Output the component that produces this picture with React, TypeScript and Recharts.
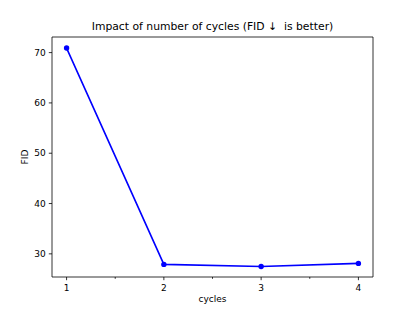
import { LineChart, Line, XAxis, YAxis, ReferenceArea } from "recharts";

const cycles = [1, 2, 3, 4];
const fid = [70.9, 27.9, 27.5, 28.1];
const xTicks = [1, 1.5, 2, 2.5, 3, 3.5, 4];
const yTicks = [30, 40, 50, 60, 70];

const data = cycles.map((c, i) => ({ cycles: c, fid: fid[i] }));

const FONT = "'DejaVu Sans', sans-serif";
const X_DOMAIN: [number, number] = [0.85, 4.15];
const Y_DOMAIN: [number, number] = [25.4, 73.1];

function XTick(props: any) {
  const { x, y, payload } = props;
  const major = Number.isInteger(payload.value);
  return (
    <g>
      <line x1={x} x2={x} y1={y} y2={y + (major ? 3.2 : 1.8)} stroke="#000" strokeWidth={0.8} />
      {major && (
        <text x={x} y={y + 13.5} textAnchor="middle" fontSize={9} fontFamily={FONT} fill="#000">
          {payload.value}
        </text>
      )}
    </g>
  );
}

export default function App() {
  return (
    <div style={{ position: "absolute", left: 0, top: 0, width: 415, height: 311, background: "#fff" }}>
      <LineChart width={415} height={311} data={data} margin={{ top: 37, right: 42, bottom: 0, left: 0 }}>
        <XAxis
          dataKey="cycles"
          type="number"
          domain={X_DOMAIN}
          allowDataOverflow
          ticks={xTicks}
          interval={0}
          height={34}
          axisLine={false}
          tickLine={false}
          tickSize={0}
          tickMargin={0}
          tick={<XTick />}
        />
        <YAxis
          type="number"
          domain={Y_DOMAIN}
          allowDataOverflow
          ticks={yTicks}
          interval={0}
          width={52}
          axisLine={false}
          tickSize={3.2}
          tickMargin={3}
          tickLine={{ stroke: "#000", strokeWidth: 0.8 }}
          tick={{ fontSize: 9, fill: "#000", fontFamily: FONT }}
        />
        <ReferenceArea
          x1={X_DOMAIN[0]}
          x2={X_DOMAIN[1]}
          y1={Y_DOMAIN[0]}
          y2={Y_DOMAIN[1]}
          fill="none"
          fillOpacity={0}
          stroke="#000"
          strokeWidth={0.8}
          ifOverflow="visible"
        />
        <Line
          type="linear"
          dataKey="fid"
          stroke="#0000ff"
          strokeWidth={1.6}
          dot={{ r: 2.7, fill: "#0000ff", stroke: "none" }}
          activeDot={false}
          isAnimationActive={false}
        />
        <text x={212.5} y={30} textAnchor="middle" fontSize={10.8} fontFamily={FONT} fill="#000">
          Impact of number of cycles (FID ↓{"\u00a0"} is better)
        </text>
        <text x={212.5} y={302} textAnchor="middle" fontSize={9} fontFamily={FONT} fill="#000">
          cycles
        </text>
        <text
          x={25}
          y={157}
          textAnchor="middle"
          dominantBaseline="central"
          transform="rotate(-90, 25, 157)"
          fontSize={9}
          fontFamily={FONT}
          fill="#000"
        >
          FID
        </text>
      </LineChart>
    </div>
  );
}
